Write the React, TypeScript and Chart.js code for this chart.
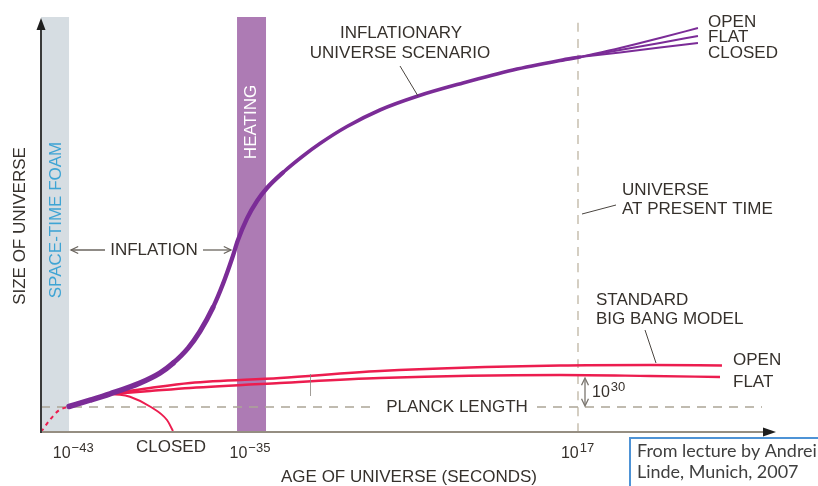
import React, { useEffect, useRef } from 'react';
import { Chart, registerables } from 'chart.js';

Chart.register(...registerables);

const FONT = '"Liberation Sans", Arial, Helvetica, sans-serif';

// Schematic units: x = position along the age axis (0..100), y = size (0..100)
const inflationX = [3.83, 6.69, 9.43, 13.52, 16.26, 18.03, 20.08, 21.72, 23.5, 24.86, 26.09, 26.91, 28.14, 29.51, 30.87, 33.06, 35.79, 38.11, 41.8, 46.31, 51.5, 57.65, 64.48, 70.9, 73.63];
const inflationY = [6.19, 7.72, 9.27, 11.89, 14.32, 16.69, 20.33, 24.42, 30.24, 35.95, 42.06, 46.58, 51.82, 56.07, 59.22, 62.99, 66.99, 70.02, 74.15, 78.16, 81.55, 84.71, 87.86, 90.17, 91.02];

const splitX = [73.63, 79.1, 84.56, 89.75];
const inflOpenY = [91.02, 93.2, 95.63, 98.06];
const inflFlatY = [91.02, 92.72, 94.42, 96.12];
const inflClosedY = [91.02, 92.11, 93.33, 94.42];

const bbX = [9.02, 14.89, 20.36, 32.65, 46.31, 70.9, 83.2, 93.03];
const bbOpenY = [9.15, 10.68, 11.89, 13.11, 14.81, 16.14, 16.26, 16.14];
const bbFlatX = [9.02, 14.89, 20.36, 32.65, 46.31, 70.9, 83.2, 92.76];
const bbFlatY = [9.15, 9.95, 10.68, 11.89, 13.11, 13.83, 13.59, 13.35];
const bbClosedX = [9.02, 10.79, 12.16, 14.89, 17.21, 18.03];
const bbClosedY = [9.15, 9.05, 8.55, 6.19, 2.91, 0.24];

const foamX = [0, 1.2, 2.4, 3.83];
const foamY = [0, 2.9, 5.2, 6.19];

const planckLevel = 6.07;
const planckEnd = 98.5;
const presentAge = 73.36;

const bandStart = [0, 26.78];
const bandEnd = [3.83, 30.74];

const tickValues = [4.4, 28.55, 73.3];
const tickExponents = ['\u221243', '\u221235', '17'];

const pts = (xs: number[], ys: number[]) => xs.map((x, i) => ({ x, y: ys[i] }));

function txt(ctx: CanvasRenderingContext2D, s: string, x: number, y: number, o: any = {}) {
  const size = o.size ?? 17;
  ctx.save();
  ctx.font = `${size}px ${o.family ?? FONT}`;
  ctx.fillStyle = o.color ?? '#36312c';
  ctx.textAlign = o.align ?? 'left';
  ctx.textBaseline = o.baseline ?? 'middle';
  if (o.rotate) {
    ctx.translate(x, y);
    ctx.rotate(-Math.PI / 2);
    ctx.fillText(s, 0, 0);
  } else {
    ctx.fillText(s, x, y);
  }
  ctx.restore();
}

function line(ctx: CanvasRenderingContext2D, x1: number, y1: number, x2: number, y2: number, color = '#4a4540', w = 1) {
  ctx.save();
  ctx.strokeStyle = color;
  ctx.lineWidth = w;
  ctx.beginPath();
  ctx.moveTo(x1, y1);
  ctx.lineTo(x2, y2);
  ctx.stroke();
  ctx.restore();
}

function openHead(ctx: CanvasRenderingContext2D, tx: number, ty: number, ang: number, color = '#6a655e') {
  const L = 8;
  ctx.save();
  ctx.strokeStyle = color;
  ctx.lineWidth = 1.3;
  ctx.beginPath();
  ctx.moveTo(tx - L * Math.cos(ang - 0.45), ty - L * Math.sin(ang - 0.45));
  ctx.lineTo(tx, ty);
  ctx.lineTo(tx - L * Math.cos(ang + 0.45), ty - L * Math.sin(ang + 0.45));
  ctx.stroke();
  ctx.restore();
}

function powerLabel(ctx: CanvasRenderingContext2D, exp: string, x: number, baseY: number, align: 'center' | 'left', baseSize = 16, supSize = 13, rise = 6) {
  ctx.save();
  ctx.fillStyle = '#36312c';
  ctx.textBaseline = 'alphabetic';
  ctx.textAlign = 'left';
  ctx.font = `${baseSize}px ${FONT}`;
  const w1 = ctx.measureText('10').width;
  ctx.font = `${supSize}px ${FONT}`;
  const w2 = ctx.measureText(exp).width;
  const start = align === 'center' ? x - (w1 + w2 + 1) / 2 : x;
  ctx.font = `${baseSize}px ${FONT}`;
  ctx.fillText('10', start, baseY);
  ctx.font = `${supSize}px ${FONT}`;
  ctx.fillText(exp, start + w1 + 1, baseY - rise);
  ctx.restore();
}

const annotate = {
  id: 'annotate',
  beforeDatasetsDraw(chart: any) {
    const { ctx, chartArea, scales } = chart;
    const xs = scales.x;
    const colors = ['#d6dde2', '#ad7bb4'];
    for (let i = 0; i < bandStart.length; i++) {
      const a = xs.getPixelForValue(bandStart[i]);
      const b = xs.getPixelForValue(bandEnd[i]);
      ctx.fillStyle = colors[i];
      ctx.fillRect(a, chartArea.top - 3, b - a, chartArea.bottom - chartArea.top + 3);
    }
  },
  afterDatasetsDraw(chart: any) {
    const { ctx, chartArea, scales } = chart;
    const { left, right, top, bottom } = chartArea;
    const xs = scales.x;

    // axes
    line(ctx, left, bottom, right - 8, bottom, '#958e82', 2);
    line(ctx, left, bottom + 1, left, top + 10, '#3a3a3a', 2);
    ctx.fillStyle = '#1e1e1e';
    ctx.beginPath();
    ctx.moveTo(left, top - 2);
    ctx.lineTo(left - 4.5, top + 10);
    ctx.lineTo(left + 4.5, top + 10);
    ctx.closePath();
    ctx.fill();
    ctx.beginPath();
    ctx.moveTo(right + 3, bottom);
    ctx.lineTo(right - 10, bottom - 4.5);
    ctx.lineTo(right - 10, bottom + 4.5);
    ctx.closePath();
    ctx.fill();

    // tick labels
    tickValues.forEach((v, i) => powerLabel(ctx, tickExponents[i], xs.getPixelForValue(v), 458, 'center', 16, 13, 6));
    txt(ctx, 'CLOSED', 171, 447.5, { align: 'center' });

    // axis titles
    txt(ctx, 'AGE OF UNIVERSE (SECONDS)', 409, 477, { align: 'center' });
    txt(ctx, 'SIZE OF UNIVERSE', 20, 226, { align: 'center', rotate: true });

    // band labels
    txt(ctx, 'SPACE-TIME FOAM', 56, 220, { align: 'center', rotate: true, color: '#3ea4d4' });
    txt(ctx, 'HEATING', 251.5, 122, { align: 'center', rotate: true, color: '#ffffff' });

    // inflation arrows
    txt(ctx, 'INFLATION', 154, 250, { align: 'center' });
    line(ctx, 105, 250, 71, 250, '#6a655e', 1.3);
    openHead(ctx, 71, 250, Math.PI);
    line(ctx, 203, 250, 231, 250, '#6a655e', 1.3);
    openHead(ctx, 231, 250, 0);

    // inflationary scenario
    txt(ctx, 'INFLATIONARY', 401, 33, { align: 'center' });
    txt(ctx, 'UNIVERSE SCENARIO', 400, 53, { align: 'center' });
    line(ctx, 400, 66, 418, 96, '#4a4540', 1);
    txt(ctx, 'OPEN', 708, 22);
    txt(ctx, 'FLAT', 708, 37.5);
    txt(ctx, 'CLOSED', 708, 53);

    // present time
    txt(ctx, 'UNIVERSE', 622, 190);
    txt(ctx, 'AT PRESENT TIME', 622, 209);
    line(ctx, 582, 214, 616, 205, '#4a4540', 1);

    // standard big bang
    txt(ctx, 'STANDARD', 596, 300);
    txt(ctx, 'BIG BANG MODEL', 596, 319);
    line(ctx, 645, 330, 656, 363, '#4a4540', 1);
    txt(ctx, 'OPEN', 733, 360);
    txt(ctx, 'FLAT', 733, 382);

    // small tick on the big bang lines
    line(ctx, 310.5, 374, 310.5, 396, '#8a857e', 0.8);

    // planck length label
    ctx.fillStyle = '#ffffff';
    ctx.fillRect(376, 399, 158, 16);
    txt(ctx, 'PLANCK LENGTH', 457, 407, { align: 'center' });

    // 10^30 arrow
    line(ctx, 585, 379, 585, 405, '#7a756e', 1.3);
    openHead(ctx, 585, 378, -Math.PI / 2, '#7a756e');
    openHead(ctx, 585, 406, Math.PI / 2, '#7a756e');
    powerLabel(ctx, '30', 592, 397, 'left', 16, 13, 6);

    // source box
    ctx.save();
    ctx.strokeStyle = '#4e93d6';
    ctx.lineWidth = 2;
    ctx.strokeRect(630, 438, 200, 60);
    const fam = 'Lato, "Open Sans", sans-serif';
    ctx.font = `16px ${fam}`;
    const w = ctx.measureText('From lecture by Andrei').width;
    const size = 16 * 180 / w;
    ctx.restore();
    txt(ctx, 'From lecture by Andrei', 637, 451, { size, family: fam, color: '#3f3f3f' });
    txt(ctx, 'Linde, Munich, 2007', 637, 472, { size, family: fam, color: '#3f3f3f' });
  },
};

export default function App() {
  const ref = useRef<HTMLCanvasElement>(null);
  useEffect(() => {
    const purple = '#7b2c97';
    const red = '#ec1d4f';
    const base = { pointRadius: 0, fill: false, cubicInterpolationMode: 'monotone' as const };
    const chart = new Chart(ref.current as HTMLCanvasElement, {
      type: 'line',
      data: {
        datasets: [
          {
            ...base,
            data: pts(inflationX, inflationY),
            borderColor: purple,
            borderWidth: 3.5,
            borderCapStyle: 'round',
            borderJoinStyle: 'round',
            segment: {
              borderWidth: (c: any) => (c.p0.parsed.x < 17 ? 5.5 : c.p0.parsed.x < 23 ? 5 : c.p0.parsed.x < 31 ? 4.3 : 3.6),
            },
          } as any,
          { ...base, data: pts(splitX, inflOpenY), borderColor: purple, borderWidth: 2 },
          { ...base, data: pts(splitX, inflFlatY), borderColor: purple, borderWidth: 2 },
          { ...base, data: pts(splitX, inflClosedY), borderColor: purple, borderWidth: 2 },
          { ...base, data: pts(bbX, bbOpenY), borderColor: red, borderWidth: 2.4 },
          { ...base, data: pts(bbFlatX, bbFlatY), borderColor: red, borderWidth: 2.4 },
          { ...base, data: pts(bbClosedX, bbClosedY), borderColor: red, borderWidth: 2 },
          { ...base, data: pts(foamX, foamY), borderColor: red, borderWidth: 2, borderDash: [4, 4] },
          {
            ...base,
            data: [{ x: 0, y: planckLevel }, { x: planckEnd, y: planckLevel }],
            borderColor: '#aca596',
            borderWidth: 1.6,
            borderDash: [9, 7],
          },
          {
            ...base,
            data: [{ x: presentAge, y: 0 }, { x: presentAge, y: 100 }],
            borderColor: '#cbc3b4',
            borderWidth: 1.6,
            borderDash: [9, 7],
          },
        ],
      },
      options: {
        animation: false,
        responsive: false,
        maintainAspectRatio: false,
        events: [],
        layout: { padding: { left: 41, right: 45, top: 20, bottom: 54 } },
        scales: {
          x: { type: 'linear', min: 0, max: 100, display: false },
          y: { type: 'linear', min: 0, max: 100, display: false },
        },
        plugins: { legend: { display: false }, tooltip: { enabled: false } },
      },
      plugins: [annotate],
    });
    return () => chart.destroy();
  }, []);
  return (
    <div style={{ position: 'fixed', left: 0, top: 0, width: 818, height: 486, background: '#ffffff' }}>
      <canvas ref={ref} width={818} height={486} style={{ display: 'block', width: 818, height: 486 }} />
    </div>
  );
}
